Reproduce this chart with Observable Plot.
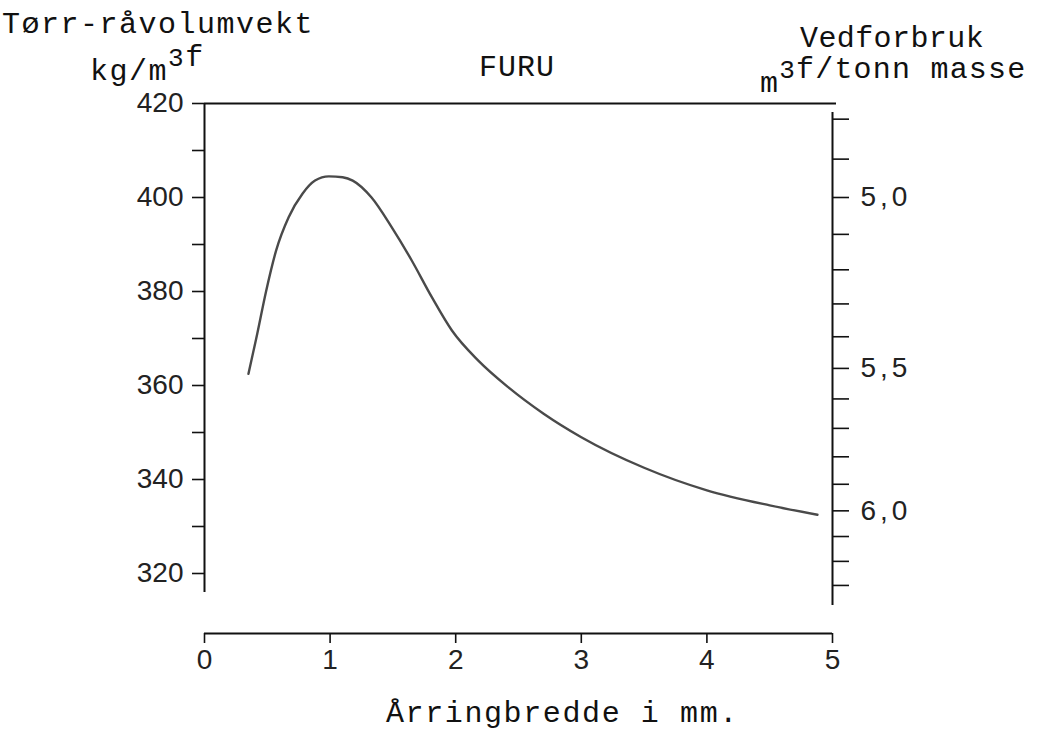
<!DOCTYPE html>
<html><head><meta charset="utf-8">
<script src="https://cdn.jsdelivr.net/npm/d3@7"></script>
<script src="https://cdn.jsdelivr.net/npm/@observablehq/plot@0.6"></script>
<style>
body{margin:0;background:#fff;}
#wrap{position:relative;width:1041px;height:741px;overflow:hidden;background:#fff;}
#wrap svg{position:absolute;left:0;top:0;}
</style></head><body><div id="wrap"></div>
<script>
// Årringbredde (mm) and tørr-råvolumvekt (kg/m3f)
const arringbredde = [0.35, 0.42, 0.49, 0.57, 0.67, 0.78, 0.88, 0.99, 1.10, 1.18, 1.33, 1.49, 1.65, 1.81, 1.97, 2.18, 2.42, 2.70, 3.00, 3.50, 4.00, 4.50, 4.88];
const volumvekt    = [362.5, 371, 380, 388.7, 395.8, 400.8, 403.6, 404.5, 404.3, 403.6, 400, 393.7, 386.6, 378.8, 371.7, 365.3, 359.6, 354, 349, 342.5, 337.7, 334.5, 332.5];

// axis ticks
const xTicks = [0, 1, 2, 3, 4, 5];
const leftTicks = [420, 410, 400, 390, 380, 370, 360, 350, 340, 330, 320];
const leftLabels = [420, 400, 380, 360, 340, 320];
const vedTicks = [4.8, 4.9, 5.0, 5.1, 5.2, 5.3, 5.4, 5.5, 5.6, 5.7, 5.8, 5.9, 6.0, 6.1, 6.2, 6.3];
const vedLabels = [5.0, 5.5, 6.0];
const vedConstant = 2000; // vedforbruk = 2000 / volumvekt

const data = arringbredde.map((x, i) => ({x, y: volumvekt[i]}));
const vedRho = vedTicks.map(v => vedConstant / v);

const numFont = "Liberation Sans";
const monoFont = "Liberation Mono";

const chart = Plot.plot({
  width: 1041, height: 741,
  marginTop: 103, marginBottom: 168, marginLeft: 204, marginRight: 209,
  x: {domain: [0, 5]},
  y: {domain: [320, 420]},
  style: {background: "transparent", color: "#111"},
  marks: [
    Plot.ruleY([420], {insetRight: -4, strokeWidth: 2, stroke: "#111"}),
    Plot.ruleX([0], {insetBottom: -19, strokeWidth: 2, stroke: "#111"}),
    Plot.ruleX([5], {insetTop: 9, insetBottom: -32, strokeWidth: 2, stroke: "#111"}),
    Plot.axisY(leftTicks, {anchor: "left", label: null, tickSize: 12, tickPadding: 9, strokeWidth: 1.6,
      fontSize: 28, fontFamily: numFont, fill: "#222",
      tickFormat: d => leftLabels.includes(d) ? String(d) : ""}),
    Plot.axisY(vedRho, {anchor: "right", label: null, tickSize: 16, tickPadding: 12, strokeWidth: 1.6,
      fontSize: 28, fontFamily: numFont, fill: "#222", style: "letter-spacing:4px",
      tickFormat: d => {
        const v = Math.round(vedConstant / d * 10) / 10;
        return vedLabels.includes(v) ? v.toFixed(1).replace(".", ",") : "";
      }}),
    Plot.ruleY([320], {dy: 60, strokeWidth: 2, stroke: "#111"}),
    Plot.axisX(xTicks, {anchor: "bottom", label: null, dy: 60, tickSize: 10, tickPadding: 6, strokeWidth: 1.6,
      fontSize: 28, fontFamily: numFont, fill: "#222", tickFormat: d => String(d)}),
    Plot.line(data, {x: "x", y: "y", curve: "monotone-x", stroke: "#4a4a4a", strokeWidth: 2.4})
  ]
});
document.getElementById("wrap").appendChild(chart);

// right-axis labels: widen spacing like the typed original
d3.select(chart).selectAll("text").filter(function() { return /,/.test(this.textContent); })
  .attr("letter-spacing", 4);

// titles as real text
const svg = d3.select(chart);
function addText(parts, x, y, anchor, spacing) {
  const t = svg.append("text")
    .attr("x", x).attr("y", y)
    .attr("text-anchor", anchor || "start")
    .attr("font-family", monoFont)
    .attr("font-size", 30)
    .attr("letter-spacing", spacing || 0)
    .attr("fill", "#111");
  parts.forEach(p => {
    if (typeof p === "string") t.append("tspan").text(p);
    else {
      t.append("tspan").attr("dy", -14).attr("font-size", 26).text(p.sup);
      t.append("tspan").attr("dy", 14).text("");
    }
  });
  return t;
}
addText(["Tørr-råvolumvekt"], 2, 33, "start", 1.5);
addText(["kg/m", {sup: "3"}, "f"], 90, 80, "start", 1.5);
addText(["FURU"], 517, 76, "middle", 1);
addText(["Vedforbruk"], 800, 47, "start", 0.4);
addText(["m", {sup: "3"}, "f/tonn masse"], 760, 92, "start", 1.2);
addText(["Årringbredde i mm."], 386, 722, "start", 1.6);
</script>
</body></html>
